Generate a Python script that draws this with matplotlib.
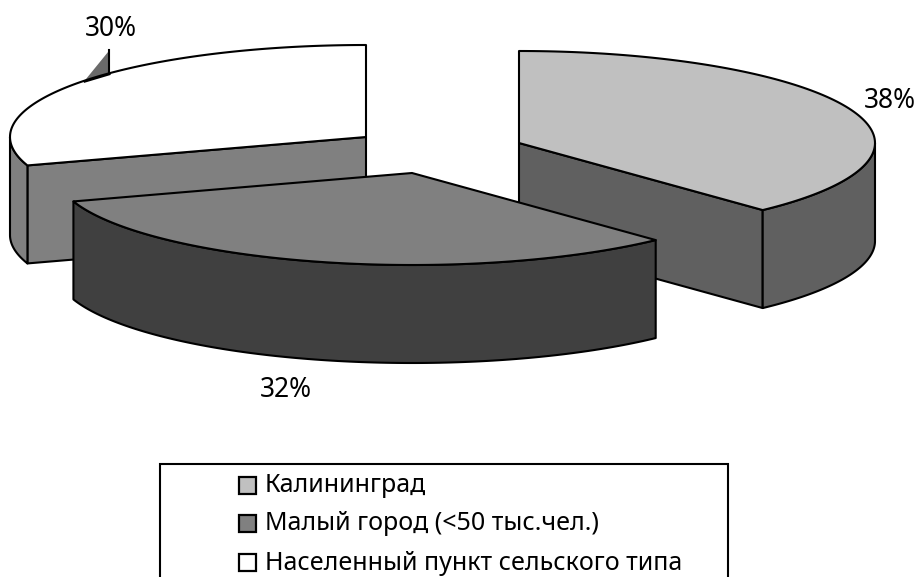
import numpy as np
import matplotlib
matplotlib.use("Agg")
import matplotlib.pyplot as plt
from matplotlib.patches import Polygon, Rectangle

plt.rcParams["font.family"] = ["Noto Sans", "DejaVu Sans"]

# Data
categories = ["Калининград", "Малый город (<50 тыс.чел.)", "Населенный пункт сельского типа"]
shares = [38, 32, 30]
labels = ["38%", "32%", "30%"]

# Colours
top_colors = ["#c0c0c0", "#808080", "#ffffff"]
side_colors = ["#606060", "#404040", "#808080"]

# Layout in pixels
centers = [(519, 143), (412, 173), (366, 137)]
rx, ry = 356, 92
depth = 98
edge = "black"
lw = 1.5

# which end of each slice shows its cut wall (None = hidden)
cut_ends = ["b", None, "a"]

fig = plt.figure(figsize=(9.23, 5.77), dpi=100)
ax = fig.add_axes([0, 0, 1, 1])
ax.set_xlim(0, 923)
ax.set_ylim(577, 0)
ax.axis("off")


def rim(center, a, b, n=120):
    # angles in degrees, clockwise from the top of the ellipse
    t = np.radians(np.linspace(a, b, n))
    return np.column_stack([center[0] + rx * np.sin(t), center[1] - ry * np.cos(t)])


def wall(pts, color):
    low = pts + [0, depth]
    ax.add_patch(Polygon(np.vstack([pts, low[::-1]]), closed=True, facecolor=color,
                         edgecolor=edge, linewidth=lw, joinstyle="round"))


def draw_slice(i, a, b):
    c = np.array(centers[i], dtype=float)
    if cut_ends[i] == "a":
        wall(np.vstack([c, rim(c, a, a, 1)]), side_colors[i])
    elif cut_ends[i] == "b":
        wall(np.vstack([c, rim(c, b, b, 1)]), side_colors[i])
    # outer wall, only the front half of the rim
    lo, hi = max(a, 90), min(b, 270)
    if lo < hi:
        wall(rim(c, lo, hi), side_colors[i])
    top = np.vstack([c, rim(c, a, b)])
    ax.add_patch(Polygon(top, closed=True, facecolor=top_colors[i], edgecolor=edge,
                         linewidth=lw, joinstyle="round"))


angles = np.cumsum([0] + shares) * 3.6

# small leader wedge of the 30% label, stuck on the rim
c3 = np.array(centers[2], dtype=float)
p1 = rim(c3, 307.8, 307.8, 1)[0]
p2 = rim(c3, 313.9, 313.9, 1)[0]
ax.add_patch(Polygon([p1, p2, p2 + [0, -23]], closed=True, facecolor="#6a6a6a", edgecolor="none"))
ax.plot([p2[0], p2[0]], [p2[1], p2[1] - 23], color=edge, lw=lw)
ax.plot([p1[0], p2[0]], [p1[1] + 1, p2[1] + 1], color=edge, lw=lw)

# back left slice first, the front one last
draw_slice(2, angles[2], angles[3])
draw_slice(0, angles[0], angles[1])
draw_slice(1, angles[1], angles[2])

# Percent labels
label_pos = [(890, 101), (286, 390), (111, 29)]
for txt, pos in zip(labels, label_pos):
    ax.text(pos[0], pos[1], txt, ha="center", va="center", fontsize=19, color="black")

# Legend box, its bottom is cut off by the picture edge
ax.add_patch(Rectangle((160, 464), 568, 130, facecolor="white", edgecolor=edge, linewidth=1.5))
legend_y = [486, 524, 563]
for name, col, y in zip(categories, top_colors, legend_y):
    ax.add_patch(Rectangle((239, y - 9), 17, 17, facecolor=col, edgecolor=edge, linewidth=1.6))
    ax.text(265, y, name, ha="left", va="center", fontsize=18, color="black")

fig.savefig("out.png", dpi=100)
